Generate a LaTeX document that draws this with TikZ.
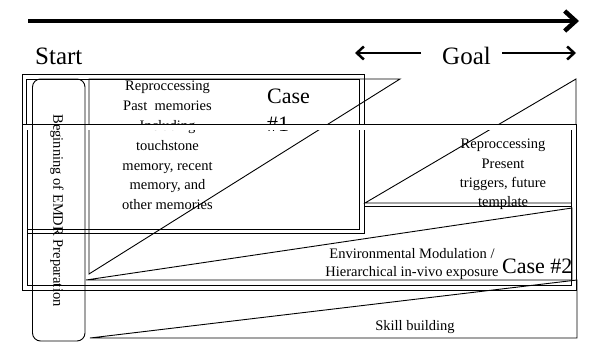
\documentclass[tikz,border=0pt]{standalone}
\usepackage{fontspec}
\setmainfont{Liberation Serif}
\usetikzlibrary{arrows.meta}
\begin{document}
\begin{tikzpicture}[x=1pt,y=-1pt,
  ln/.style={line width=0.9pt, line join=miter},
  body/.style={font=\fontsize{14.5}{19.8}\selectfont, align=center, inner sep=0pt},
  big/.style={font=\fontsize{22}{28}\selectfont, inner sep=0pt, align=left},
  head/.style={font=\fontsize{25}{30}\selectfont, inner sep=0pt},
  bigarrow/.style={line width=4.5pt, -{Straight Barb[length=11pt,width=20pt]}},
  goalarrow/.style={line width=2.5pt, -{Straight Barb[length=7pt,width=13pt]}}]
\useasboundingbox (0,0) rectangle (589,342);

% top arrow
\coordinate (ta) at (28,21);
\coordinate (tb) at (579,21);
\draw[bigarrow] (ta) -- (tb);

% Start / Goal
\node[head, anchor=base west] (start) at (35,65) {Start};
\node[head, anchor=base west] (goal) at (442,65) {Goal};
\coordinate (gla) at (421,53);
\coordinate (glb) at (355,53);
\coordinate (gra) at (502,53);
\coordinate (grb) at (576,53);
\draw[goalarrow] (gla) -- (glb);
\draw[goalarrow] (gra) -- (grb);

% Case #1 box
\draw[ln] (22.7,74) rectangle (364,233.5);
\draw[ln] (26,79) rectangle (359,229);

\node[body, anchor=north] (past) at (167.5,81)
  {Reproccessing\\Past\ \ memories\\Including\\touchstone\\memory, recent\\memory, and\\other memories};
\node[big, anchor=north west] (case1) at (267,88.4) {Case\\\#1};

% wedge 1
\draw[ln] (89,79) -- (400,79) -- (89,274) -- cycle;

% wedge 2
\draw[ln] (365,203) -- (576,79) -- (576,203) -- cycle;
\draw[ln] (365,206) -- (571,206);
\node[body, anchor=north, font=\fontsize{14.5}{19.3}\selectfont] (present) at (503,139)
  {Reproccessing\\Present\\triggers, future\\template};

% Case #2 box
\draw[ln, double=white, double distance=4.2pt] (25.3,127.5) rectangle (573.8,288);

% wedge 3
\draw[ln] (86,280) -- (572,208) -- (572,280) -- cycle;
\node[body, anchor=north, font=\fontsize{14.5}{18}\selectfont] (env) at (412,248.5)
  {Environmental Modulation /\\Hierarchical in-vivo exposure};
\node[big, anchor=base west] (case2) at (502,273) {Case \#2};

% wedge 4
\draw[ln] (90,338) -- (577,280) -- (577,338) -- cycle;
\node[body, anchor=base] (skill) at (415,330) {Skill building};

% vertical rounded box
\draw[ln, rounded corners=8pt] (32.5,79) rectangle (85,341);
\node[body, rotate=-90] (prep) at (57,210.5) {Beginning of EMDR Preparation};
\end{tikzpicture}
\end{document}
